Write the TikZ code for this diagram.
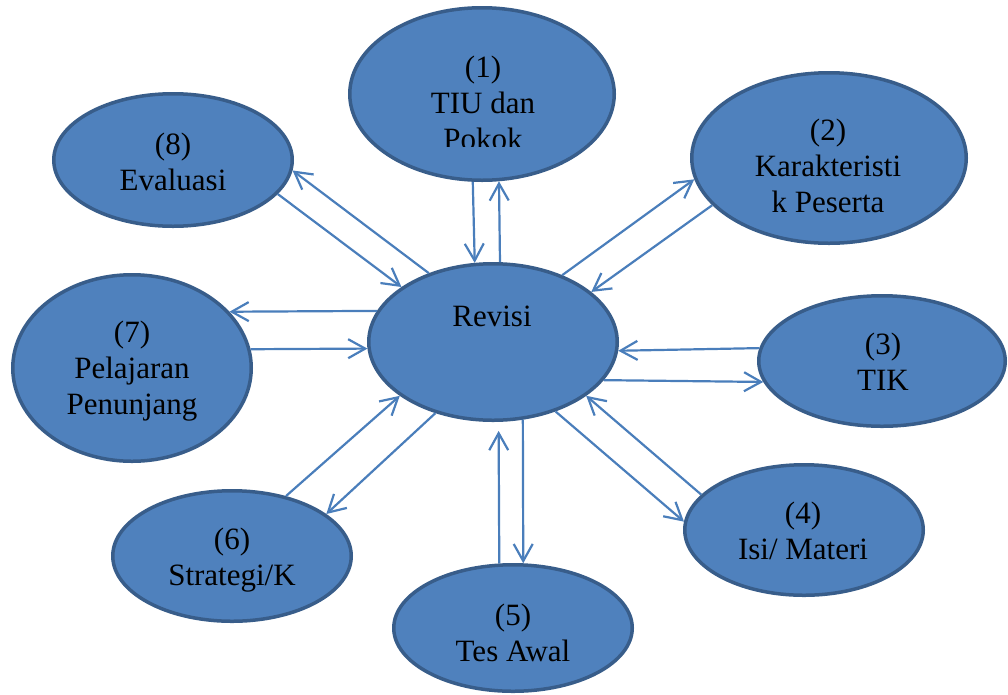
\documentclass[tikz,border=0pt]{standalone}
\usepackage{fontspec}
\setmainfont{Liberation Serif}
\usetikzlibrary{shapes.geometric, arrows.meta}
\definecolor{fillc}{HTML}{4F81BD}
\definecolor{bdr}{HTML}{385D8A}
\definecolor{arr}{HTML}{4A7EBB}
\tikzset{
  bub/.style={ellipse, draw=bdr, fill=fillc, line width=3.5pt, inner sep=0pt},
  lbl/.style={align=center, font=\fontsize{31}{36}\selectfont, inner sep=0pt, text=black},
  con/.style={draw=arr, line width=2.2pt, -{Straight Barb[length=17pt,width=19pt]}}
}
\begin{document}
\begin{tikzpicture}[x=1pt, y=-1pt]
\useasboundingbox (0,0) rectangle (1008,694);
% ellipses
\node[bub, minimum width=248.5pt, minimum height=156.5pt] (rev) at (493,342) {};
\node[bub, minimum width=264.5pt, minimum height=172.5pt] (e1) at (482,94) {};
\node[bub, minimum width=274.5pt, minimum height=170.5pt] (e2) at (829,158) {};
\node[bub, minimum width=246.5pt, minimum height=130.5pt] (e3) at (882,361) {};
\node[bub, minimum width=238.5pt, minimum height=130.5pt] (e4) at (804,530) {};
\node[bub, minimum width=238.5pt, minimum height=126.5pt] (e5) at (513,628) {};
\node[bub, minimum width=238.5pt, minimum height=130.5pt] (e6) at (232,556) {};
\node[bub, minimum width=238.5pt, minimum height=186.5pt] (e7) at (132,368) {};
\node[bub, minimum width=238.5pt, minimum height=132.5pt] (e8) at (173,160) {};
% labels
\node[lbl] (trev) at (492,316) {Revisi};
\begin{scope}
\clip (340,0) rectangle (640,146.5);
\node[lbl] (t1) at (483,103) {(1)\\TIU dan\\Pokok};
\end{scope}
\node[lbl] (t2) at (828,166) {(2)\\Karakteristi\\k Peserta};
\node[lbl] (t3) at (883,362) {(3)\\TIK};
\node[lbl] (t4) at (803,531) {(4)\\Isi/ Materi};
\node[lbl] (t5) at (513,633) {(5)\\Tes Awal};
\node[lbl] (t6) at (232,560) {(6)\\Strategi/K};
\node[lbl] (t7) at (132,371) {(7)\\Pelajaran\\Penunjang};
\node[lbl] (t8) at (173,162) {(8)\\Evaluasi};
% connectors
\draw[con] (e1.264.8) -- (rev.103.5);
\draw[con] (rev.85.7) -- (e1.281);
\draw[con] (rev.44.1) -- (e2.189.7);
\draw[con] (e2.202.4) -- (rev.27.3);
\draw[con] (e3.174.4) -- (rev.356.8);
\draw[con] (rev.341.7) -- (e3.190.9);
\draw[con] (e4.161.7) -- (rev.330.7);
\draw[con] (rev.312.4) -- (e4.176.2);
\draw[con, shorten >=9pt] (e5.102.2) -- (rev.274.3);
\draw[con] (rev.291.1) -- (e5.81.5);
\draw[con] (e6.48) -- (rev.210.7);
\draw[con] (rev.231.1) -- (e6.24);
\draw[con] (rev.165.1) -- (e7.30.5);
\draw[con] (e7.9.1) -- (rev.183.2);
\draw[con] (e8.342.3) -- (rev.149.5);
\draw[con] (rev.133.2) -- (e8.355.8);
\end{tikzpicture}
\end{document}
